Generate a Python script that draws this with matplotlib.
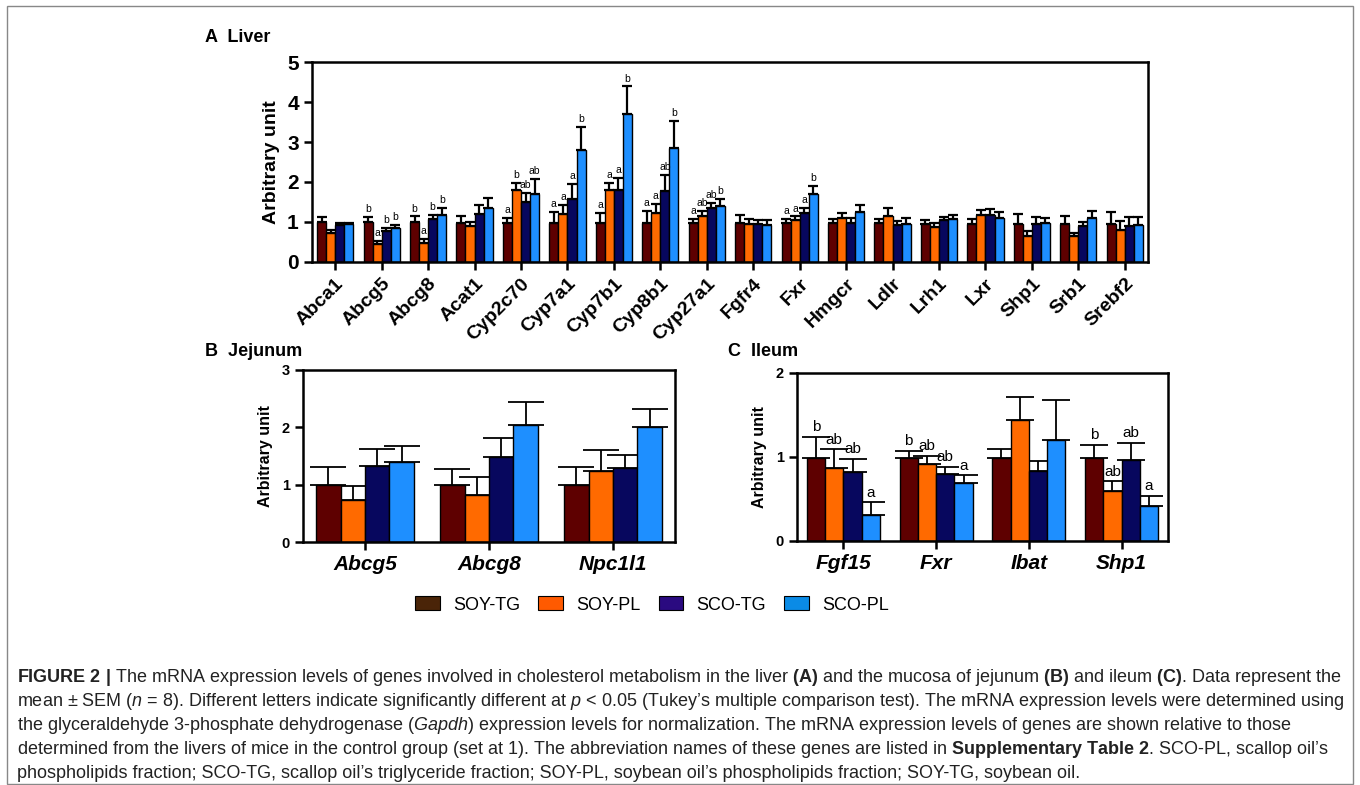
import numpy as np
import matplotlib.pyplot as plt
from matplotlib import font_manager
from matplotlib.patches import Patch, Rectangle

# groups and colours
groups = ["SOY-TG", "SOY-PL", "SCO-TG", "SCO-PL"]
bar_colors = ["#5e0000", "#ff6a00", "#07075e", "#1e8fff"]
legend_colors = ["#4a2408", "#ff5a00", "#2a0a80", "#0a8be6"]

# A  Liver
liver_genes = ["Abca1", "Abcg5", "Abcg8", "Acat1", "Cyp2c70", "Cyp7a1", "Cyp7b1",
               "Cyp8b1", "Cyp27a1", "Fgfr4", "Fxr", "Hmgcr", "Ldlr", "Lrh1", "Lxr",
               "Shp1", "Srb1", "Srebf2"]
liver_mean = [[1.00, 0.73, 0.93, 0.95], [1.00, 0.44, 0.77, 0.86], [1.00, 0.48, 1.07, 1.18],
              [0.98, 0.90, 1.21, 1.36], [0.98, 1.81, 1.50, 1.71], [0.98, 1.19, 1.58, 2.79],
              [0.98, 1.79, 1.79, 3.69], [0.98, 1.22, 1.78, 2.86], [0.98, 1.15, 1.35, 1.40],
              [0.98, 0.96, 0.94, 0.93], [0.98, 1.04, 1.23, 1.71], [0.98, 1.11, 0.98, 1.25],
              [0.98, 1.15, 0.92, 0.96], [0.96, 0.88, 1.06, 1.07], [0.96, 1.17, 1.17, 1.11],
              [0.96, 0.65, 0.96, 0.98], [0.96, 0.65, 0.89, 1.11], [0.96, 0.79, 0.90, 0.92]]
liver_sem = [[0.13, 0.07, 0.05, 0.03], [0.13, 0.08, 0.09, 0.06], [0.14, 0.09, 0.11, 0.18],
             [0.16, 0.10, 0.21, 0.24], [0.13, 0.17, 0.22, 0.36], [0.27, 0.24, 0.38, 0.59],
             [0.24, 0.19, 0.31, 0.70], [0.29, 0.24, 0.39, 0.66], [0.09, 0.12, 0.13, 0.17],
             [0.20, 0.11, 0.10, 0.11], [0.10, 0.10, 0.12, 0.19], [0.09, 0.12, 0.12, 0.17],
             [0.10, 0.20, 0.11, 0.15], [0.08, 0.10, 0.07, 0.10], [0.12, 0.14, 0.15, 0.14],
             [0.23, 0.13, 0.17, 0.12], [0.18, 0.08, 0.11, 0.16], [0.29, 0.24, 0.23, 0.21]]
liver_sig = {"Abcg5": ["b", "a", "b", "b"], "Abcg8": ["b", "a", "b", "b"],
             "Cyp2c70": ["a", "b", "ab", "ab"], "Cyp7a1": ["a", "a", "a", "b"],
             "Cyp7b1": ["a", "a", "a", "b"], "Cyp8b1": ["a", "a", "ab", "b"],
             "Cyp27a1": ["a", "ab", "ab", "b"], "Fxr": ["a", "a", "a", "b"]}

# B  Jejunum
jej_genes = ["Abcg5", "Abcg8", "Npc1l1"]
jej_mean = [[0.99, 0.74, 1.33, 1.40], [0.99, 0.82, 1.48, 2.04], [0.99, 1.24, 1.29, 2.00]]
jej_sem = [[0.32, 0.23, 0.29, 0.27], [0.29, 0.31, 0.33, 0.40], [0.32, 0.36, 0.23, 0.32]]

# C  Ileum
ile_genes = ["Fgf15", "Fxr", "Ibat", "Shp1"]
ile_mean = [[0.99, 0.87, 0.82, 0.31], [0.99, 0.92, 0.80, 0.69],
            [0.99, 1.44, 0.83, 1.20], [0.99, 0.59, 0.96, 0.42]]
ile_sem = [[0.25, 0.22, 0.16, 0.15], [0.08, 0.09, 0.08, 0.09],
           [0.11, 0.27, 0.12, 0.48], [0.15, 0.12, 0.21, 0.12]]
ile_sig = {"Fgf15": ["b", "ab", "ab", "a"], "Fxr": ["b", "ab", "ab", "a"],
           "Shp1": ["b", "ab", "ab", "a"]}

caption_lines = [
    r"$\mathbf{FIGURE\ 2\ |}$ The mRNA expression levels of genes involved in cholesterol metabolism in the liver $\mathbf{(A)}$ and the mucosa of jejunum $\mathbf{(B)}$ and ileum $\mathbf{(C)}$. Data represent the",
    r"mean ± SEM ($\mathit{n}$ = 8). Different letters indicate significantly different at $\mathit{p}$ < 0.05 (Tukey’s multiple comparison test). The mRNA expression levels were determined using",
    r"the glyceraldehyde 3-phosphate dehydrogenase ($\mathit{Gapdh}$) expression levels for normalization. The mRNA expression levels of genes are shown relative to those",
    r"determined from the livers of mice in the control group (set at 1). The abbreviation names of these genes are listed in $\mathbf{Supplementary\ Table\ 2}$. SCO-PL, scallop oil’s",
    r"phospholipids fraction; SCO-TG, scallop oil’s triglyceride fraction; SOY-PL, soybean oil’s phospholipids fraction; SOY-TG, soybean oil.",
]

installed = {f.name for f in font_manager.fontManager.ttflist}
cap_font = "Liberation Sans Narrow" if "Liberation Sans Narrow" in installed else "Liberation Sans"
cap_size = 12.5 if cap_font == "Liberation Sans Narrow" else 13.0

plt.rcParams["font.family"] = ["Liberation Sans", "DejaVu Sans"]
plt.rcParams["mathtext.fontset"] = "custom"
plt.rcParams["mathtext.rm"] = cap_font
plt.rcParams["mathtext.it"] = cap_font + ":italic"
plt.rcParams["mathtext.bf"] = cap_font + ":bold"

W, H = 1360, 785
fig = plt.figure(figsize=(W / 100, H / 100), dpi=100)


def px_axes(x0, y0, x1, y1):
    return fig.add_axes([x0 / W, 1 - y1 / H, (x1 - x0) / W, (y1 - y0) / H])


def draw_panel(ax, genes, mean, sem, sig, width, capsize, elw, letter_fs, tick_len):
    mean = np.array(mean)
    sem = np.array(sem)
    x = np.arange(len(genes))
    for j in range(4):
        xs = x + (j - 1.5) * width
        ax.bar(xs, mean[:, j], width, color=bar_colors[j], edgecolor="black",
               linewidth=1.0, zorder=2)
        ax.errorbar(xs, mean[:, j], yerr=[np.zeros(len(genes)), sem[:, j]], fmt="none",
                    ecolor="black", elinewidth=elw, capsize=capsize, capthick=elw, zorder=1)
        for i, g in enumerate(genes):
            if g in sig:
                ax.annotate(sig[g][j], (xs[i], mean[i, j] + sem[i, j]), xytext=(0, 2),
                            textcoords="offset points", ha="center", va="bottom",
                            fontsize=letter_fs)
    ax.set_xlim(-0.5, len(genes) - 0.5)
    ax.set_xticks(x)
    for s in ax.spines.values():
        s.set_linewidth(1.8)
    ax.tick_params(axis="both", width=1.8, length=tick_len, direction="out")


# A Liver
ax1 = px_axes(312, 62, 1148, 262)
draw_panel(ax1, liver_genes, liver_mean, liver_sem, liver_sig, 0.195, 3.5, 1.6, 7.5, 6)
ax1.set_ylim(0, 5)
ax1.set_yticks(range(6))
ax1.set_yticklabels([str(v) for v in range(6)], fontsize=15, fontweight="bold")
ax1.set_xticklabels(liver_genes, rotation=45, ha="right", rotation_mode="anchor",
                    fontsize=14, fontweight="bold")
ax1.set_ylabel("Arbitrary unit", fontsize=14, fontweight="bold", labelpad=5)

# B Jejunum
ax2 = px_axes(303, 370, 675, 542)
draw_panel(ax2, jej_genes, jej_mean, jej_sem, {}, 0.197, 13, 1.3, 11, 6)
ax2.set_ylim(0, 3)
ax2.set_yticks(range(4))
ax2.set_yticklabels([str(v) for v in range(4)], fontsize=10.5, fontweight="bold")
ax2.set_xticklabels(jej_genes, fontsize=15, fontweight="bold", style="italic")
ax2.set_ylabel("Arbitrary unit", fontsize=11.5, fontweight="bold", labelpad=6)

# C Ileum
ax3 = px_axes(797, 373, 1168, 541)
draw_panel(ax3, ile_genes, ile_mean, ile_sem, ile_sig, 0.197, 10, 1.3, 11, 6)
ax3.set_ylim(0, 2)
ax3.set_yticks(range(3))
ax3.set_yticklabels([str(v) for v in range(3)], fontsize=10.5, fontweight="bold")
ax3.set_xticklabels(ile_genes, fontsize=15, fontweight="bold", style="italic")
ax3.set_ylabel("Arbitrary unit", fontsize=11.5, fontweight="bold", labelpad=6)

# panel titles
fig.text(205 / W, 1 - 37 / H, "A  Liver", fontsize=13, fontweight="bold", va="center")
fig.text(205 / W, 1 - 352 / H, "B  Jejunum", fontsize=13, fontweight="bold", va="center")
fig.text(728 / W, 1 - 352 / H, "C  Ileum", fontsize=13, fontweight="bold", va="center")

# legend
handles = [Patch(facecolor=c, edgecolor="black", linewidth=0.8) for c in legend_colors]
fig.legend(handles, groups, loc="center", bbox_to_anchor=(652 / W, 1 - 605 / H), ncol=4,
           frameon=False, fontsize=13, handlelength=1.35, handleheight=0.8,
           handletextpad=0.75, columnspacing=1.0)

# caption
for k, line in enumerate(caption_lines):
    fig.text(17 / W, 1 - (677 + 24 * k) / H, line, fontsize=cap_size, family=cap_font,
             va="center", ha="left", color="#222222")

fig.patches.append(Rectangle((7 / W, 1.5 / H), 1346 / W, 778 / H, transform=fig.transFigure,
                             fill=False, edgecolor="#888888", linewidth=1.0))

fig.savefig("out.png", dpi=100)
